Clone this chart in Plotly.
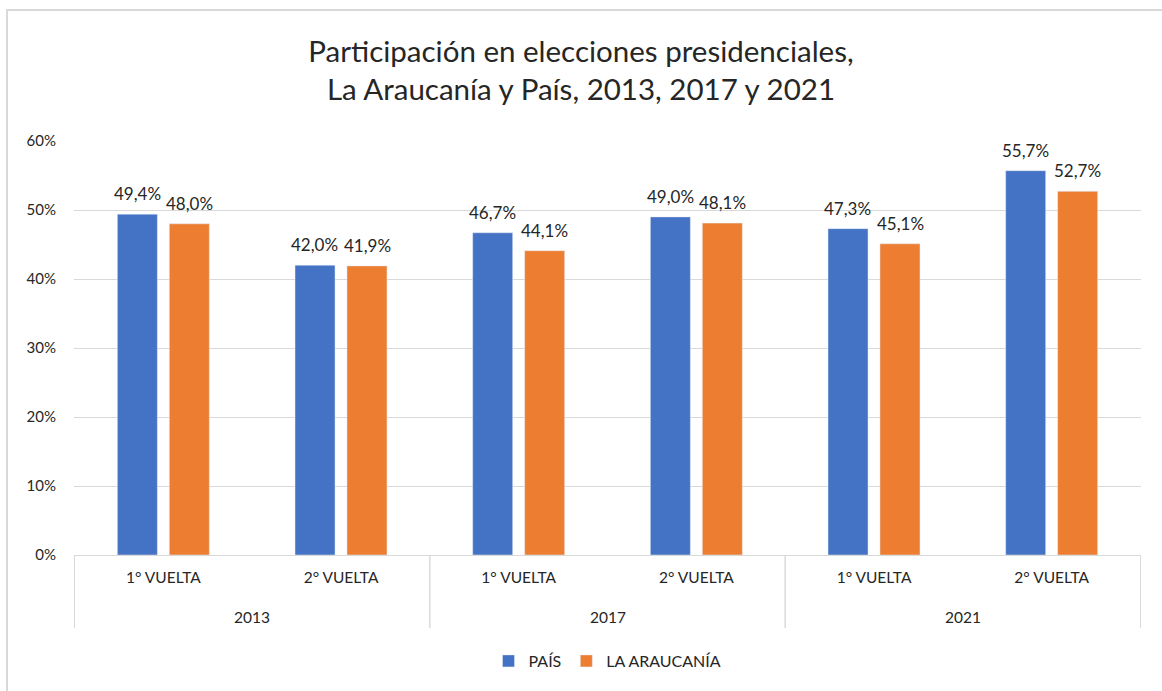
import plotly.graph_objects as go

years = ["2013", "2013", "2017", "2017", "2021", "2021"]
rounds = ["1° VUELTA", "2° VUELTA", "1° VUELTA", "2° VUELTA", "1° VUELTA", "2° VUELTA"]
pais = [0.494, 0.420, 0.467, 0.490, 0.473, 0.557]
araucania = [0.480, 0.419, 0.441, 0.481, 0.451, 0.527]

FONT = "Lato"
TXT = "#262626"
GRID = "#d9d9d9"

cats = [f"{r} | {y}" for r, y in zip(rounds, years)]

W, H = 1162, 691
L, R, T, B = 74, 21, 141, 136
pw, ph = W - L - R, H - T - B
BARGAP, GROUPGAP = 0.415, 0.23
slot = pw / len(cats)
half = (1 - BARGAP) * slot / 4  # centre offset of each bar in a pair

fig = go.Figure()
fig.add_trace(go.Bar(x=cats, y=pais, name="PAÍS", marker_color="#4472C4"))
fig.add_trace(go.Bar(x=cats, y=araucania, name="LA ARAUCANÍA", marker_color="#ED7D31"))

annotations = []
for vals, sh in ((pais, -half), (araucania, half)):
    for c, v in zip(cats, vals):
        annotations.append(dict(
            x=c, xref="x", y=v, yref="y", xshift=sh, yshift=8,
            text=f"{v*100:.1f}%".replace(".", ","), showarrow=False,
            yanchor="bottom", xanchor="center",
            font=dict(family=FONT, size=17, color=TXT),
        ))

# year group labels and dividers
unique_years = []
for y in years:
    if y not in unique_years:
        unique_years.append(y)
shapes = []
for y in unique_years:
    idx = [i for i, v in enumerate(years) if v == y]
    annotations.append(dict(
        x=(idx[0] + idx[-1]) / 2, xref="x", y=-(617 - 555) / ph, yref="paper",
        text=y, showarrow=False, yanchor="middle", xanchor="center",
        font=dict(family=FONT, size=15.5, color=TXT),
    ))
    for b in (idx[0] - 0.5, idx[-1] + 0.5):
        shapes.append(dict(
            type="line", xref="x", yref="paper", x0=b, x1=b,
            y0=0, y1=-(628 - 555) / ph, line=dict(color=GRID, width=1),
        ))

shapes.append(dict(
    type="rect", xref="paper", yref="paper",
    x0=(7 - L) / pw, x1=(W + 10 - L) / pw,
    y0=-(B + 10) / ph, y1=(H - B - 10) / ph,
    line=dict(color=GRID, width=2), fillcolor="rgba(0,0,0,0)", layer="below",
))

fig.update_layout(
    width=W, height=H,
    margin=dict(l=L, r=R, t=T, b=B),
    paper_bgcolor="white", plot_bgcolor="white",
    separators=",.",
    font=dict(family=FONT, size=14, color=TXT),
    title=dict(
        text="Participación en elecciones presidenciales,<br>La Araucanía y País, 2013, 2017 y 2021",
        x=0.5, xanchor="center", yref="container", y=(H - 62) / H, yanchor="middle",
        font=dict(family=FONT, size=29.5, color=TXT),
    ),
    barmode="group", bargap=BARGAP, bargroupgap=GROUPGAP,
    legend=dict(
        orientation="h", x=0.5, xanchor="center", y=-(661 - 555) / ph, yanchor="middle",
        font=dict(family=FONT, size=16, color=TXT), itemwidth=30,
    ),
    xaxis=dict(
        type="category", showline=True, linecolor=GRID, linewidth=1,
        tickvals=cats, ticktext=rounds, ticks="",
        tickfont=dict(family=FONT, size=15.5, color=TXT),
        ticklabelstandoff=8, automargin=False,
    ),
    yaxis=dict(
        range=[0, 0.6], dtick=0.1, tickformat=".0%",
        showgrid=True, gridcolor=GRID, gridwidth=1,
        zeroline=False, showline=False,
        tickfont=dict(family=FONT, size=15, color=TXT),
        ticklabelstandoff=17, automargin=False,
    ),
    annotations=annotations,
    shapes=shapes,
)

fig.write_html("out.html", config={"displayModeBar": False},
               post_script="document.body.style.margin='0';")
